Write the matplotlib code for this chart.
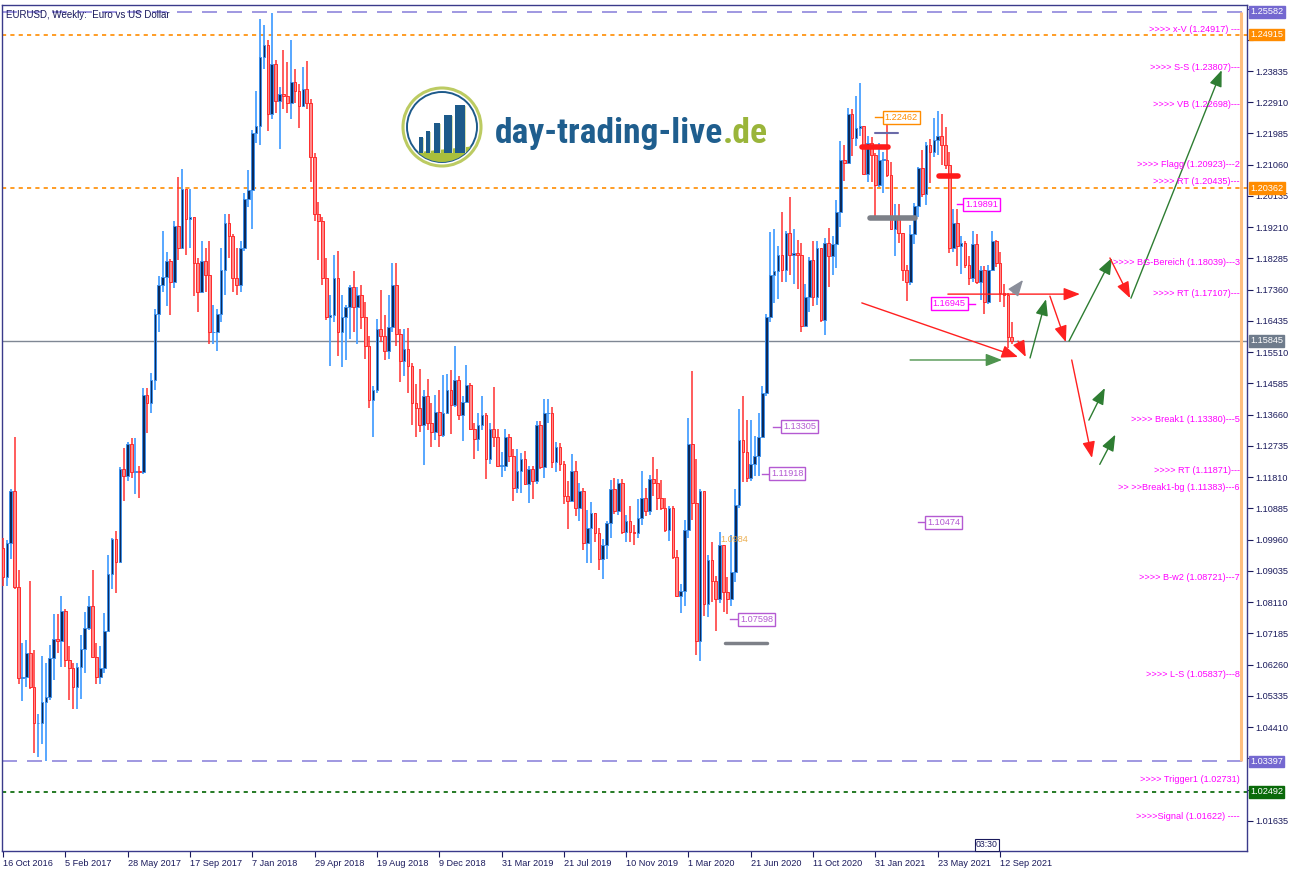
import matplotlib
matplotlib.use('Agg')
import matplotlib.pyplot as plt
from matplotlib import font_manager
from matplotlib.patches import Rectangle, Circle, Polygon

# EURUSD weekly candles, bar 0 = week of 16 Oct 2016
first_open = 1.0970
closes = [
    1.0885, 1.0985, 1.1140, 1.0855, 1.0588, 1.0590, 1.0661, 1.0560, 1.0452, 1.0453,
    1.0517, 1.0531, 1.0645, 1.0702, 1.0697, 1.0785, 1.0640, 1.0615, 1.0560, 1.0620,
    1.0671, 1.0735, 1.0800, 1.0650, 1.0590, 1.0615, 1.0725, 1.0895, 1.0998, 1.0930,
    1.1205, 1.1185, 1.1280, 1.1195, 1.1198, 1.1195, 1.1425, 1.1400, 1.1470, 1.1665,
    1.1750, 1.1775, 1.1820, 1.1760, 1.1925, 1.1860, 1.2035, 1.1945, 1.1950, 1.1815,
    1.1730, 1.1820, 1.1780, 1.1610, 1.1610, 1.1665, 1.1795, 1.1935, 1.1895, 1.1770,
    1.1750, 1.1860, 1.2005, 1.2030, 1.2200, 1.2220, 1.2425, 1.2460, 1.2255, 1.2405,
    1.2295, 1.2315, 1.2310, 1.2290, 1.2350, 1.2325, 1.2280, 1.2330, 1.2290, 1.2130,
    1.1960, 1.1940, 1.1770, 1.1655, 1.1660, 1.1770, 1.1610, 1.1655, 1.1685, 1.1745,
    1.1685, 1.1720, 1.1655, 1.1570, 1.1410, 1.1440, 1.1620, 1.1600, 1.1555, 1.1625,
    1.1750, 1.1605, 1.1525, 1.1560, 1.1510, 1.1400, 1.1385, 1.1335, 1.1420, 1.1340,
    1.1315, 1.1375, 1.1305, 1.1370, 1.1440, 1.1395, 1.1470, 1.1365, 1.1405, 1.1455,
    1.1325, 1.1295, 1.1335, 1.1365, 1.1235, 1.1325, 1.1300, 1.1215, 1.1215, 1.1300,
    1.1245, 1.1150, 1.1200, 1.1235, 1.1160, 1.1205, 1.1170, 1.1335, 1.1210, 1.1370,
    1.1370, 1.1225, 1.1270, 1.1220, 1.1125, 1.1110, 1.1200, 1.1090, 1.1140, 1.0985,
    1.1030, 1.1075, 1.1015, 1.0940, 1.0980, 1.1045, 1.1145, 1.1080, 1.1165, 1.1020,
    1.1050, 1.1020, 1.1015, 1.1060, 1.1120, 1.1080, 1.1175, 1.1165, 1.1120, 1.1090,
    1.1025, 1.1090, 1.0945, 1.0830, 1.0845, 1.1025, 1.1280, 1.1105, 1.0695, 1.1140,
    1.0805, 1.0935, 1.0875, 1.0820, 1.0980, 1.0840, 1.0820, 1.0900, 1.1100, 1.1290,
    1.1255, 1.1180, 1.1220, 1.1245, 1.1300, 1.1430, 1.1655, 1.1780, 1.1790, 1.1840,
    1.1795, 1.1905, 1.1840, 1.1845, 1.1840, 1.1630, 1.1715, 1.1825, 1.1715, 1.1860,
    1.1645, 1.1875, 1.1835, 1.1870, 1.1965, 1.2120, 1.2110, 1.2255, 1.2185, 1.2215,
    1.2220, 1.2080, 1.2170, 1.2135, 1.2045, 1.2120, 1.2120, 1.2075, 1.1915, 1.1950,
    1.1905, 1.1795, 1.1760, 1.1900, 1.1985, 1.2095, 1.2020, 1.2165, 1.2145, 1.2180,
    1.2190, 1.2165, 1.2105, 1.1860, 1.1935, 1.1865, 1.1875, 1.1810, 1.1770, 1.1870,
    1.1760, 1.1795, 1.1700, 1.1795, 1.1880, 1.1815, 1.1725, 1.1720, 1.1595, 1.15845,
]
highs = [
    1.1000, 1.0995, 1.1145, 1.1300, 1.0905, 1.0690, 1.0700, 1.0874, 1.0670, 1.0480,
    1.0653, 1.0630, 1.0685, 1.0775, 1.0775, 1.0829, 1.0790, 1.0680, 1.0630, 1.0630,
    1.0715, 1.0782, 1.0830, 1.0906, 1.0690, 1.0680, 1.0780, 1.0950, 1.1000, 1.1022,
    1.1212, 1.1268, 1.1285, 1.1296, 1.1296, 1.1215, 1.1445, 1.1445, 1.1490, 1.1680,
    1.1777, 1.1910, 1.1847, 1.1826, 1.1940, 1.2070, 1.2092, 1.2030, 1.2035, 1.1950,
    1.1830, 1.1880, 1.1860, 1.1880, 1.1690, 1.1680, 1.1860, 1.1960, 1.1960, 1.1900,
    1.1860, 1.1880, 1.2023, 1.2090, 1.2210, 1.2323, 1.2537, 1.2520, 1.2475, 1.2555,
    1.2415, 1.2335, 1.2446, 1.2410, 1.2476, 1.2388, 1.2345, 1.2396, 1.2414, 1.2300,
    1.2140, 1.1995, 1.1950, 1.1830, 1.1720, 1.1840, 1.1852, 1.1720, 1.1690, 1.1751,
    1.1791, 1.1745, 1.1750, 1.1700, 1.1600, 1.1450, 1.1650, 1.1734, 1.1660, 1.1720,
    1.1815, 1.1815, 1.1620, 1.1621, 1.1624, 1.1520, 1.1456, 1.1500, 1.1440, 1.1472,
    1.1402, 1.1425, 1.1440, 1.1485, 1.1486, 1.1497, 1.1570, 1.1480, 1.1420, 1.1514,
    1.1460, 1.1340, 1.1370, 1.1420, 1.1370, 1.1340, 1.1448, 1.1325, 1.1255, 1.1324,
    1.1310, 1.1265, 1.1265, 1.1254, 1.1260, 1.1215, 1.1215, 1.1348, 1.1347, 1.1412,
    1.1413, 1.1390, 1.1286, 1.1283, 1.1230, 1.1170, 1.1250, 1.1230, 1.1165, 1.1150,
    1.1085, 1.1109, 1.1076, 1.1030, 1.0999, 1.1050, 1.1172, 1.1179, 1.1175, 1.1176,
    1.1070, 1.1097, 1.1040, 1.1117, 1.1200, 1.1150, 1.1188, 1.1240, 1.1205, 1.1173,
    1.1120, 1.1096, 1.1095, 1.0965, 1.0865, 1.1053, 1.1355, 1.1495, 1.1236, 1.1147,
    1.1113, 1.0951, 1.0990, 1.0890, 1.1019, 1.0980, 1.0887, 1.1009, 1.1147, 1.1384,
    1.1422, 1.1350, 1.1349, 1.1302, 1.1371, 1.1452, 1.1663, 1.1908, 1.1916, 1.1865,
    1.1966, 1.1910, 1.2011, 1.1917, 1.1883, 1.1873, 1.1753, 1.1832, 1.1880, 1.1880,
    1.1860, 1.1890, 1.1920, 1.1894, 1.2003, 1.2177, 1.2163, 1.2273, 1.2272, 1.2310,
    1.2349, 1.2220, 1.2190, 1.2189, 1.2140, 1.2169, 1.2144, 1.2243, 1.2113, 1.1990,
    1.1989, 1.1905, 1.1810, 1.1927, 1.1994, 1.2100, 1.2150, 1.2172, 1.2183, 1.2245,
    1.2266, 1.2255, 1.2218, 1.2145, 1.1975, 1.1975, 1.1895, 1.1880, 1.1835, 1.1909,
    1.1900, 1.1805, 1.1805, 1.1808, 1.1909, 1.1884, 1.1848, 1.1752, 1.1725, 1.1640,
]
lows = [
    1.0860, 1.0860, 1.0940, 1.0850, 1.0570, 1.0518, 1.0560, 1.0555, 1.0366, 1.0352,
    1.0390, 1.0340, 1.0520, 1.0580, 1.0660, 1.0620, 1.0620, 1.0520, 1.0494, 1.0495,
    1.0525, 1.0600, 1.0730, 1.0650, 1.0570, 1.0570, 1.0600, 1.0820, 1.0850, 1.0839,
    1.0930, 1.1110, 1.1170, 1.1180, 1.1132, 1.1120, 1.1190, 1.1313, 1.1370, 1.1440,
    1.1612, 1.1730, 1.1688, 1.1661, 1.1740, 1.1823, 1.1860, 1.1838, 1.1860, 1.1717,
    1.1669, 1.1730, 1.1730, 1.1575, 1.1575, 1.1554, 1.1640, 1.1720, 1.1830, 1.1730,
    1.1720, 1.1730, 1.1850, 1.1980, 1.1916, 1.2170, 1.2165, 1.2390, 1.2206, 1.2240,
    1.2260, 1.2154, 1.2270, 1.2260, 1.2240, 1.2290, 1.2215, 1.2280, 1.2270, 1.2055,
    1.1938, 1.1823, 1.1750, 1.1645, 1.1510, 1.1640, 1.1541, 1.1508, 1.1527, 1.1590,
    1.1610, 1.1574, 1.1620, 1.1530, 1.1387, 1.1301, 1.1430, 1.1580, 1.1527, 1.1530,
    1.1610, 1.1570, 1.1462, 1.1480, 1.1431, 1.1335, 1.1300, 1.1315, 1.1216, 1.1320,
    1.1270, 1.1290, 1.1269, 1.1300, 1.1370, 1.1310, 1.1390, 1.1350, 1.1289, 1.1400,
    1.1322, 1.1234, 1.1260, 1.1320, 1.1176, 1.1220, 1.1270, 1.1210, 1.1183, 1.1200,
    1.1227, 1.1110, 1.1135, 1.1135, 1.1157, 1.1105, 1.1115, 1.1160, 1.1204, 1.1180,
    1.1340, 1.1208, 1.1195, 1.1200, 1.1101, 1.1027, 1.1110, 1.1065, 1.1052, 1.0965,
    1.0926, 1.0927, 1.0990, 1.0905, 1.0879, 1.0940, 1.1000, 1.1073, 1.1070, 1.1012,
    1.0989, 1.0990, 1.0981, 1.1000, 1.1040, 1.1066, 1.1070, 1.1125, 1.1085, 1.1085,
    1.1019, 1.0992, 1.0940, 1.0827, 1.0778, 1.0800, 1.1000, 1.1055, 1.0654, 1.0636,
    1.0769, 1.0768, 1.0812, 1.0727, 1.0810, 1.0782, 1.0775, 1.0800, 1.0870, 1.1090,
    1.1168, 1.1168, 1.1170, 1.1185, 1.1185, 1.1330, 1.1420, 1.1640, 1.1696, 1.1710,
    1.1760, 1.1760, 1.1780, 1.1752, 1.1737, 1.1612, 1.1630, 1.1670, 1.1689, 1.1690,
    1.1640, 1.1602, 1.1745, 1.1780, 1.1800, 1.1923, 1.2058, 1.2110, 1.2131, 1.2160,
    1.2190, 1.2075, 1.2055, 1.2056, 1.1952, 1.2040, 1.2023, 1.2070, 1.1913, 1.1836,
    1.1875, 1.1762, 1.1704, 1.1750, 1.1870, 1.1950, 1.2010, 1.1986, 1.2052, 1.2130,
    1.2135, 1.2105, 1.2094, 1.1845, 1.1848, 1.1807, 1.1782, 1.1800, 1.1751, 1.1760,
    1.1752, 1.1706, 1.1664, 1.1695, 1.1790, 1.1802, 1.1700, 1.1684, 1.1563, 1.1575,
]
opens = [first_open] + closes[:-1]

# date axis, one label every 16 weeks
date_ticks = list(range(0, 257, 16))
date_labels = ['16 Oct 2016', '5 Feb 2017', '28 May 2017', '17 Sep 2017', '7 Jan 2018',
               '29 Apr 2018', '19 Aug 2018', '9 Dec 2018', '31 Mar 2019', '21 Jul 2019',
               '10 Nov 2019', '1 Mar 2020', '21 Jun 2020', '11 Oct 2020', '31 Jan 2021',
               '23 May 2021', '12 Sep 2021']

# horizontal price levels: (price, colour, dash pattern, tag colour)
levels = [
    (1.25582, '#8f86dc', (9, 6), '#7468d0'),
    (1.24915, '#ff8c00', (2.5, 2.5), '#ff8c00'),
    (1.20362, '#ff8c00', (2.5, 2.5), '#ff8c00'),
    (1.15845, '#7f8794', None, '#6f7c8c'),
    (1.03397, '#8f86dc', (9, 6), '#7468d0'),
    (1.02492, '#006400', (2.5, 2.5), '#0a6a0a'),
]

# target notes on the right side
note_labels = ['>>>> x-V (1.24917) ---', '>>>> S-S (1.23807)---', '>>>> VB (1.22698)---',
               '>>>> Flagg (1.20923)---2', '>>>> RT (1.20435)---',
               '>>>> BG-Bereich (1.18039)---3', '>>>> RT (1.17107)---',
               '>>>> Break1 (1.13380)---5', '>>>> RT (1.11871)---',
               '>> >>Break1-bg (1.11383)---6', '>>>> B-w2 (1.08721)---7',
               '>>>> L-S (1.05837)---8', '>>>> Trigger1 (1.02731)',
               '>>>>Signal (1.01622) ----']
note_prices = [1.24917, 1.23807, 1.22698, 1.20923, 1.20435, 1.18039, 1.17107,
               1.13380, 1.11871, 1.11383, 1.08721, 1.05837, 1.02731, 1.01622]

# boxed price tags: (text, price, leader start, leader end, colour, box on left)
tags = [
    ('1.22462', 1.22462, 223.9, 226.4, '#ff8c00', False),
    ('1.19891', 1.19891, 244.9, 247.0, '#ff00ff', False),
    ('1.16945', 1.16945, 249.6, 247.2, '#ff00ff', True),
    ('1.13305', 1.13305, 197.7, 200.3, '#b45ad2', False),
    ('1.11918', 1.11918, 194.9, 197.2, '#b45ad2', False),
    ('1.10474', 1.10474, 234.9, 237.2, '#b45ad2', False),
    ('1.07598', 1.07598, 186.6, 189.2, '#b45ad2', False),
]

# thick marker bars: (start week, end week, price, colour, width)
marker_bars = [
    (220.5, 227.2, 1.2159, '#ff1a1a', 4),
    (240.3, 245.2, 1.2073, '#ff1a1a', 4),
    (222.6, 234.1, 1.1948, '#7d8088', 4),
    (185.4, 196.1, 1.0690, '#7d8088', 2.5),
    (223.9, 229.8, 1.2200, '#6a6aa8', 1.5),
]

# scenario arrows: (start week, start price, end week, end price, colour)
arrows = [
    (220.5, 1.1697, 260.6, 1.1537, '#ff2020'),
    (260.6, 1.1584, 262.6, 1.1537, '#ff2020'),
    (242.6, 1.1723, 276.5, 1.1723, '#ff2020'),
    (259.3, 1.1726, 261.9, 1.1765, '#8a8e9a'),
    (232.9, 1.1528, 256.5, 1.1528, '#4e944e'),
    (263.7, 1.1534, 267.8, 1.1708, '#2e7d32'),
    (268.8, 1.1717, 272.9, 1.1581, '#ff2020'),
    (273.7, 1.1584, 284.7, 1.1830, '#2e7d32'),
    (284.2, 1.1830, 289.4, 1.1711, '#ff2020'),
    (289.6, 1.1711, 312.9, 1.2386, '#2e7d32'),
    (274.4, 1.1528, 279.6, 1.1238, '#ff2020'),
    (278.8, 1.1350, 282.9, 1.1445, '#2e7d32'),
    (281.6, 1.1219, 285.6, 1.1307, '#2e7d32'),
]

W, H = 1300, 872
fig = plt.figure(figsize=(W / 100, H / 100), dpi=100)
fig.patch.set_facecolor('white')
ax = fig.add_axes([2 / W, 21 / H, 1245 / W, 846 / H])
ax.set_xlim(-0.26, 319.4)
ax.set_ylim(1.23835 - 780 / 3378, 1.23835 + 66 / 3378)

small = ['Liberation Sans', 'DejaVu Sans']
navy = '#1a1a5c'

# candles
for i in range(len(closes)):
    o, h, l, c = opens[i], highs[i], lows[i], closes[i]
    if c >= o:
        ax.vlines(i, l, h, color='#4aa0ff', lw=1.3, zorder=3)
        ax.add_patch(Rectangle((i - 0.34, o), 0.68, max(c - o, 0.0002),
                               facecolor='#0c2a5a', edgecolor='#3d8fe8', lw=0.7, zorder=4))
    else:
        ax.vlines(i, l, h, color='#ff3030', lw=1.1, zorder=3)
        ax.add_patch(Rectangle((i - 0.34, c), 0.68, max(o - c, 0.0002),
                               facecolor='#ff8a8a', edgecolor='#ff2a2a', lw=0.7, zorder=4))

# price levels with tags on the right axis
ytrans = ax.get_yaxis_transform()
for price, col, dash, tagcol in levels:
    if dash is None:
        ax.axhline(price, color=col, lw=1.0, zorder=2)
    else:
        ax.axhline(price, color=col, lw=1.2, dashes=dash, zorder=2)
    ax.text(1.0 + 3 / 1245, price, f'{price:.5f}', transform=ytrans, ha='left', va='center',
            fontsize=6.6, family=small, color='white', zorder=10, clip_on=False,
            bbox=dict(boxstyle='square,pad=0.15', facecolor=tagcol, edgecolor=tagcol))

# vertical range marker
ax.vlines(317.9, 1.03397, 1.25582, color='#ffbf80', lw=2.2, zorder=2)

# marker bars
for w0, w1, price, col, lw in marker_bars:
    ax.plot([w0, w1], [price, price], color=col, lw=lw, solid_capstyle='round', zorder=6)

# arrows
for w0, p0, w1, p1, col in arrows:
    ax.annotate('', xy=(w1, p1), xytext=(w0, p0), zorder=7,
                arrowprops=dict(arrowstyle='-|>,head_length=0.9,head_width=0.35',
                                color=col, lw=1.0, shrinkA=0, shrinkB=0, mutation_scale=11))

# right side notes
for label, price in zip(note_labels, note_prices):
    ax.text(317.6, price, label, ha='right', va='bottom', fontsize=6.6, family=small,
            color='#ff00ff', zorder=8)

# boxed price tags with leader lines
for text, price, w0, w1, col, box_left in tags:
    ax.plot([w0, w1], [price, price], color=col, lw=1.0, zorder=8)
    ax.text(w1, price, text, ha='right' if box_left else 'left', va='center', fontsize=6.6,
            family=small, color=col, zorder=9,
            bbox=dict(boxstyle='square,pad=0.2', facecolor='white', edgecolor=col, lw=1.0))
ax.text(184.1, 1.0984, '1.0984', ha='left', va='bottom', fontsize=6.6, family=small,
        color='#e8a030', alpha=0.85, zorder=8)

# axes styling
for side in ax.spines:
    ax.spines[side].set_color('#3a3a8a')
    ax.spines[side].set_linewidth(1.0)
ax.yaxis.tick_right()
yt = [1.01635 + k * 0.00925 for k in range(27)]
tag_prices = [lv[0] for lv in levels]
# tick labels that sit under a price tag are covered by it
yl = ['' if min(abs(v - tp) for tp in tag_prices) < 0.0021 else f'{v:.5f}' for v in yt]
ax.set_yticks(yt)
ax.set_yticklabels(yl)
ax.tick_params(axis='y', direction='out', length=4, width=0.8, color=navy, pad=2,
               labelsize=6.6, labelcolor=navy)
ax.set_xticks(date_ticks)
ax.set_xticklabels(date_labels, ha='left')
ax.tick_params(axis='x', direction='out', length=4, width=0.8, color=navy, pad=1.5,
               labelsize=6.6, labelcolor=navy)
for lab in ax.get_xticklabels() + ax.get_yticklabels():
    lab.set_family(small)

ax.text(0.003, 0.994, 'EURUSD, Weekly:  Euro vs US Dollar', transform=ax.transAxes,
        ha='left', va='top', fontsize=7, family=small, color=navy)
ax.text(252.6, 1.0093, '03:30', ha='center', va='center', fontsize=6.3, family=small,
        color=navy, zorder=9,
        bbox=dict(boxstyle='square,pad=0.15', facecolor='white', edgecolor=navy, lw=0.8))

# logo badge
lg = fig.add_axes([400 / W, 1 - 172 / H, 90 / W, 90 / H])
lg.set_xlim(400, 490)
lg.set_ylim(172, 82)
lg.axis('off')
lg.add_patch(Circle((442, 127), 39, facecolor='white', edgecolor='#bccb62', lw=2.2))
inner = Circle((442, 127), 35, facecolor='none', edgecolor='#1d5a8a', lw=1.4)
lg.add_patch(inner)
ground = Polygon([(400, 154), (476, 146), (490, 172), (400, 172)], closed=True,
                 facecolor='#a9bf3c', edgecolor='none')
lg.add_patch(ground)
ground.set_clip_path(inner)
bar_x = [419, 426, 434, 444, 455]
bar_w = [4, 4, 6, 8, 10]
bar_top = [137, 131, 123, 115, 105]
for bx, bw, bt in zip(bar_x, bar_w, bar_top):
    lg.add_patch(Rectangle((bx, bt), bw, 153 - bt, facecolor='#1d5a8a', edgecolor='none'))
    lg.add_patch(Rectangle((bx + bw, bt + 1), 1.3, 152 - bt, facecolor='#d6deb0',
                           edgecolor='none'))

# pick the narrowest installed face for the wordmark
installed = {f.name for f in font_manager.fontManager.ttflist}
logo_family = next((n for n in ['Liberation Sans Narrow', 'Roboto Condensed',
                                'Open Sans Condensed', 'Noto Sans Condensed']
                    if n in installed), 'DejaVu Sans')
logo_kw = dict(family=[logo_family, 'DejaVu Sans'], fontweight='bold',
               fontstretch='condensed', va='baseline', ha='left')
base_y = 1 - 143 / H
t1 = fig.text(495 / W, base_y, 'day-trading-live', fontsize=30, color='#1f5e8e', **logo_kw)
t2 = fig.text(0, base_y, '.de', fontsize=30, color='#9ab53a', **logo_kw)
fig.canvas.draw()
full = t1.get_window_extent().width + t2.get_window_extent().width
size = min(30 * 273 / full, 36)
t1.set_fontsize(size)
t2.set_fontsize(size)
fig.canvas.draw()
t2.set_x(t1.get_window_extent().x1 / W)

fig.savefig('out.png', dpi=100, facecolor='white')
